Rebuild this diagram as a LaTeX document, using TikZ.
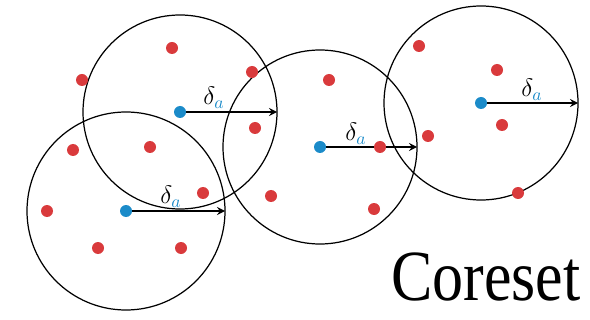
\documentclass[tikz,border=0pt]{standalone}
\usepackage{fontspec}
\setmainfont{Liberation Serif}
\usepackage{xcolor}
\definecolor{ptRed}{HTML}{D93A3C}
\definecolor{ctrBlue}{HTML}{1B8BC9}
\usetikzlibrary{calc}

\begin{document}
\begin{tikzpicture}[>=stealth, x=0.02cm, y=-0.02cm]
\useasboundingbox (0,0) rectangle (590,320);
% ---------- the balls, their centres and radius arrows ----------
\foreach \n/\x/\y/\r in {A/180/112/97, B/126/211/99, C/320/147/97, D/481/103/97} {
  \draw[line width=0.7pt] (\x,\y) circle (\r);
  \coordinate (c\n) at (\x,\y);
  \coordinate (e\n) at (\x+\r,\y);
}
\foreach \n in {A,B,C,D} {
  \draw[->, line width=1pt] (c\n) -- (e\n);
}
% ---------- the data points ----------
\foreach \x/\y in {172/48, 252/72, 82/80, 329/80, 419/46, 497/70, 502/125,
                   255/128, 428/136, 150/147, 73/150, 380/147, 203/193,
                   518/193, 271/196, 374/209, 47/211, 98/248, 181/248} {
  \fill[ptRed] (\x,\y) circle (6);
}
\foreach \n in {A,B,C,D} {
  \fill[ctrBlue] (c\n) circle (6);
}
% ---------- radius labels ----------
\tikzset{rlab/.style={inner sep=0pt, font=\fontsize{14}{16}\selectfont}}
\node[rlab] (lA) at (214,98) {$\delta_{\textcolor{ctrBlue}{a}}$};
\node[rlab] (lB) at (171,197) {$\delta_{\textcolor{ctrBlue}{a}}$};
\node[rlab] (lC) at (356,134) {$\delta_{\textcolor{ctrBlue}{a}}$};
\node[rlab] (lD) at (532,90) {$\delta_{\textcolor{ctrBlue}{a}}$};
% ---------- title ----------
\node[anchor=base, inner sep=0pt, xscale=0.86,
      font=\fontsize{41}{45}\selectfont] (title) at (486,300) {Coreset};
\end{tikzpicture}
\end{document}
